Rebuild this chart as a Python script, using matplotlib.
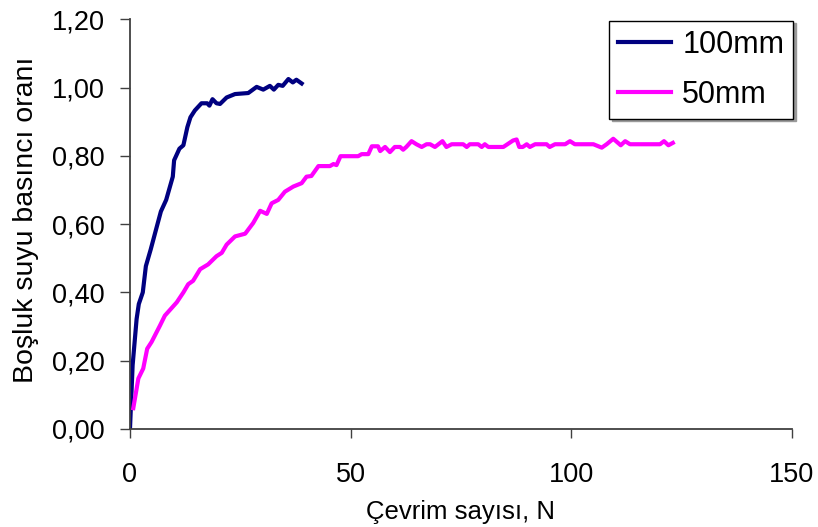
import matplotlib
matplotlib.use("Agg")
import matplotlib.pyplot as plt
from matplotlib.ticker import FuncFormatter

plt.rcParams['font.family'] = ['Liberation Sans', 'DejaVu Sans']

# 100 mm specimen
n_100 = [0, 0.6, 1.5, 2.0, 2.9, 3.6, 4.7, 5.9, 7.0, 8.2, 9.7, 10.0, 11.2, 12.1, 13.0,
         13.7, 14.7, 16.2, 17.5, 18.0, 18.7, 19.6, 20.4, 21.9, 23.8, 26.8, 28.7,
         30.2, 31.7, 32.6, 33.6, 34.6, 35.9, 36.9, 37.7, 38.9]
r_100 = [0, 0.187, 0.322, 0.366, 0.40, 0.477, 0.526, 0.584, 0.637, 0.671, 0.739, 0.787,
         0.821, 0.831, 0.884, 0.913, 0.933, 0.954, 0.954, 0.947, 0.966, 0.954, 0.952,
         0.971, 0.981, 0.984, 1.002, 0.994, 1.005, 0.994, 1.008, 1.005, 1.025, 1.015,
         1.023, 1.012]

# 50 mm specimen
n_50 = [0.75, 1.9, 3.0, 3.9, 4.9, 6.8, 7.9, 10.6, 12.1, 13.2, 14.3, 15.9, 17.7, 19.6,
        20.8, 21.9, 23.8, 26.1, 27.9, 29.5, 31.0, 32.1, 33.6, 35.1, 37.0, 38.9, 40.0,
        41.1, 42.7, 45.3, 46.1, 46.8, 47.7, 51.7, 52.5, 54.0, 54.8, 56.2, 56.7, 57.8,
        58.9, 60.0, 61.2, 61.9, 62.6, 63.8, 64.9, 66.1, 67.2, 68.0, 69.1, 70.8, 71.7,
        72.9, 75.5, 76.3, 77.0, 78.9, 79.7, 80.4, 81.2, 84.6, 86.8, 87.6, 88.2, 89.0,
        89.9, 90.6, 91.8, 94.4, 95.1, 96.3, 98.6, 99.7, 100.8, 105.0, 106.9, 108.0,
        109.5, 111.2, 112.2, 113.3, 120.1, 121.0, 122.0, 123.0]
r_50 = [0.061, 0.148, 0.177, 0.235, 0.255, 0.303, 0.332, 0.371, 0.40, 0.424, 0.434,
        0.468, 0.482, 0.506, 0.516, 0.540, 0.564, 0.572, 0.603, 0.639, 0.630, 0.661,
        0.671, 0.695, 0.710, 0.720, 0.739, 0.741, 0.770, 0.770, 0.776, 0.773, 0.799,
        0.799, 0.805, 0.805, 0.828, 0.828, 0.814, 0.826, 0.811, 0.826, 0.826, 0.818,
        0.826, 0.843, 0.834, 0.826, 0.834, 0.834, 0.826, 0.843, 0.826, 0.834, 0.834,
        0.826, 0.834, 0.834, 0.826, 0.834, 0.826, 0.826, 0.845, 0.848, 0.826, 0.826,
        0.834, 0.826, 0.834, 0.834, 0.826, 0.834, 0.834, 0.843, 0.834, 0.834, 0.824,
        0.834, 0.850, 0.831, 0.843, 0.834, 0.834, 0.843, 0.831, 0.838]

fig = plt.figure(figsize=(8.18, 5.27), dpi=100)
ax = fig.add_axes([0.1589, 0.186, 0.8093, 0.7774])

ax.plot(n_100, r_100, color='#000080', lw=3.0, label='100mm', solid_joinstyle='round')
ax.plot(n_50, r_50, color='#FF00FF', lw=3.0, label='50mm', solid_joinstyle='round')

ax.set_xlim(0, 150)
ax.set_ylim(0, 1.2)
ax.set_xticks([0, 50, 100, 150])
ax.set_yticks([0, 0.2, 0.4, 0.6, 0.8, 1.0, 1.2])
ax.yaxis.set_major_formatter(FuncFormatter(lambda v, p: f"{v:.2f}".replace('.', ',')))

for s in ['top', 'right']:
    ax.spines[s].set_visible(False)
for s in ['left', 'bottom']:
    ax.spines[s].set_color('#404040')
    ax.spines[s].set_linewidth(1.3)
ax.tick_params(axis='y', length=7, width=1, color='#404040', labelsize=19.5, pad=11)
ax.tick_params(axis='x', length=6.5, width=1, color='#404040', labelsize=19.5, pad=17)

ax.set_xlabel('Çevrim sayısı, N', fontsize=18.5, labelpad=9)
ax.set_ylabel('Boşluk suyu basıncı oranı', fontsize=20.5)
ax.yaxis.set_label_coords(-0.137, 0.51)

leg = ax.legend(loc='upper right', bbox_to_anchor=(1.002, 0.997), borderaxespad=0,
                fontsize=22, frameon=True, fancybox=False, shadow={'color': '#9a9a9a', 'alpha': 1.0},
                handlelength=1.75, borderpad=0.3, labelspacing=0.65, handletextpad=0.35)
leg.get_frame().set_edgecolor('black')
leg.get_frame().set_linewidth(1.0)
for line in leg.get_lines():
    line.set_linewidth(3.0)

fig.savefig('out.png', dpi=100)
